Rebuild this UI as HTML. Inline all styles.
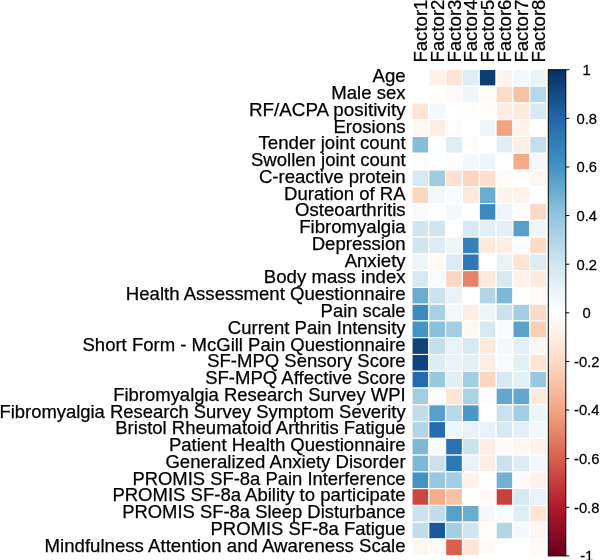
<!DOCTYPE html><html><head><meta charset="utf-8"><style>html,body{margin:0;padding:0;background:#fff;width:600px;height:560px;overflow:hidden}svg{display:block}text{font-family:"Liberation Sans",Arial,sans-serif;fill:#000;stroke:#000;stroke-width:0.25px}</style></head><body>
<svg width="600" height="560" viewBox="0 0 600 560">
<g stroke="#fff" stroke-width="1.1">
<rect x="412.00" y="69.40" width="16.82" height="16.77" fill="#ffffff"/>
<rect x="428.82" y="69.40" width="16.82" height="16.77" fill="#fef1e9"/>
<rect x="445.64" y="69.40" width="16.82" height="16.77" fill="#fee4d5"/>
<rect x="462.46" y="69.40" width="16.82" height="16.77" fill="#dfedf4"/>
<rect x="479.28" y="69.40" width="16.82" height="16.77" fill="#0c3e74"/>
<rect x="496.10" y="69.40" width="16.82" height="16.77" fill="#fef2eb"/>
<rect x="512.92" y="69.40" width="16.82" height="16.77" fill="#f1f7fa"/>
<rect x="529.74" y="69.40" width="16.82" height="16.77" fill="#eaf3f8"/>
<rect x="412.00" y="86.17" width="16.82" height="16.77" fill="#ffffff"/>
<rect x="428.82" y="86.17" width="16.82" height="16.77" fill="#ffffff"/>
<rect x="445.64" y="86.17" width="16.82" height="16.77" fill="#fffaf7"/>
<rect x="462.46" y="86.17" width="16.82" height="16.77" fill="#eff6fa"/>
<rect x="479.28" y="86.17" width="16.82" height="16.77" fill="#fffbf9"/>
<rect x="496.10" y="86.17" width="16.82" height="16.77" fill="#fddbc7"/>
<rect x="512.92" y="86.17" width="16.82" height="16.77" fill="#f8c0a4"/>
<rect x="529.74" y="86.17" width="16.82" height="16.77" fill="#b5d7e8"/>
<rect x="412.00" y="102.94" width="16.82" height="16.77" fill="#fee4d5"/>
<rect x="428.82" y="102.94" width="16.82" height="16.77" fill="#f4f8fb"/>
<rect x="445.64" y="102.94" width="16.82" height="16.77" fill="#ffffff"/>
<rect x="462.46" y="102.94" width="16.82" height="16.77" fill="#fffdfc"/>
<rect x="479.28" y="102.94" width="16.82" height="16.77" fill="#fffbf9"/>
<rect x="496.10" y="102.94" width="16.82" height="16.77" fill="#feede3"/>
<rect x="512.92" y="102.94" width="16.82" height="16.77" fill="#fee9dd"/>
<rect x="529.74" y="102.94" width="16.82" height="16.77" fill="#d8e9f2"/>
<rect x="412.00" y="119.71" width="16.82" height="16.77" fill="#fef6f1"/>
<rect x="428.82" y="119.71" width="16.82" height="16.77" fill="#feede3"/>
<rect x="445.64" y="119.71" width="16.82" height="16.77" fill="#fafcfe"/>
<rect x="462.46" y="119.71" width="16.82" height="16.77" fill="#ffffff"/>
<rect x="479.28" y="119.71" width="16.82" height="16.77" fill="#eff6fa"/>
<rect x="496.10" y="119.71" width="16.82" height="16.77" fill="#f2a27f"/>
<rect x="512.92" y="119.71" width="16.82" height="16.77" fill="#fef2eb"/>
<rect x="529.74" y="119.71" width="16.82" height="16.77" fill="#ffffff"/>
<rect x="412.00" y="136.48" width="16.82" height="16.77" fill="#86beda"/>
<rect x="428.82" y="136.48" width="16.82" height="16.77" fill="#fdfefe"/>
<rect x="445.64" y="136.48" width="16.82" height="16.77" fill="#dfedf4"/>
<rect x="462.46" y="136.48" width="16.82" height="16.77" fill="#fffbf9"/>
<rect x="479.28" y="136.48" width="16.82" height="16.77" fill="#ffffff"/>
<rect x="496.10" y="136.48" width="16.82" height="16.77" fill="#e1eef5"/>
<rect x="512.92" y="136.48" width="16.82" height="16.77" fill="#feefe6"/>
<rect x="529.74" y="136.48" width="16.82" height="16.77" fill="#c4dfec"/>
<rect x="412.00" y="153.25" width="16.82" height="16.77" fill="#fafcfe"/>
<rect x="428.82" y="153.25" width="16.82" height="16.77" fill="#fdfefe"/>
<rect x="445.64" y="153.25" width="16.82" height="16.77" fill="#fffdfc"/>
<rect x="462.46" y="153.25" width="16.82" height="16.77" fill="#f4f8fb"/>
<rect x="479.28" y="153.25" width="16.82" height="16.77" fill="#edf5f9"/>
<rect x="496.10" y="153.25" width="16.82" height="16.77" fill="#ffffff"/>
<rect x="512.92" y="153.25" width="16.82" height="16.77" fill="#f5aa89"/>
<rect x="529.74" y="153.25" width="16.82" height="16.77" fill="#f4f8fb"/>
<rect x="412.00" y="170.02" width="16.82" height="16.77" fill="#d6e8f2"/>
<rect x="428.82" y="170.02" width="16.82" height="16.77" fill="#9fcbe2"/>
<rect x="445.64" y="170.02" width="16.82" height="16.77" fill="#fde0cf"/>
<rect x="462.46" y="170.02" width="16.82" height="16.77" fill="#fcd6c0"/>
<rect x="479.28" y="170.02" width="16.82" height="16.77" fill="#fddfcd"/>
<rect x="496.10" y="170.02" width="16.82" height="16.77" fill="#fffbf9"/>
<rect x="512.92" y="170.02" width="16.82" height="16.77" fill="#ffffff"/>
<rect x="529.74" y="170.02" width="16.82" height="16.77" fill="#fef6f1"/>
<rect x="412.00" y="186.79" width="16.82" height="16.77" fill="#fcd6c0"/>
<rect x="428.82" y="186.79" width="16.82" height="16.77" fill="#f1f7fa"/>
<rect x="445.64" y="186.79" width="16.82" height="16.77" fill="#f8fbfd"/>
<rect x="462.46" y="186.79" width="16.82" height="16.77" fill="#fee8db"/>
<rect x="479.28" y="186.79" width="16.82" height="16.77" fill="#6aacd0"/>
<rect x="496.10" y="186.79" width="16.82" height="16.77" fill="#fef2eb"/>
<rect x="512.92" y="186.79" width="16.82" height="16.77" fill="#fef2eb"/>
<rect x="529.74" y="186.79" width="16.82" height="16.77" fill="#ffffff"/>
<rect x="412.00" y="203.56" width="16.82" height="16.77" fill="#f8fbfd"/>
<rect x="428.82" y="203.56" width="16.82" height="16.77" fill="#fdfefe"/>
<rect x="445.64" y="203.56" width="16.82" height="16.77" fill="#f4f8fb"/>
<rect x="462.46" y="203.56" width="16.82" height="16.77" fill="#fdfefe"/>
<rect x="479.28" y="203.56" width="16.82" height="16.77" fill="#3c8abe"/>
<rect x="496.10" y="203.56" width="16.82" height="16.77" fill="#edf5f9"/>
<rect x="512.92" y="203.56" width="16.82" height="16.77" fill="#fffbf9"/>
<rect x="529.74" y="203.56" width="16.82" height="16.77" fill="#fdd8c4"/>
<rect x="412.00" y="220.33" width="16.82" height="16.77" fill="#d1e5f0"/>
<rect x="428.82" y="220.33" width="16.82" height="16.77" fill="#d1e5f0"/>
<rect x="445.64" y="220.33" width="16.82" height="16.77" fill="#ffffff"/>
<rect x="462.46" y="220.33" width="16.82" height="16.77" fill="#d6e8f2"/>
<rect x="479.28" y="220.33" width="16.82" height="16.77" fill="#e3eff6"/>
<rect x="496.10" y="220.33" width="16.82" height="16.77" fill="#e3eff6"/>
<rect x="512.92" y="220.33" width="16.82" height="16.77" fill="#57a0ca"/>
<rect x="529.74" y="220.33" width="16.82" height="16.77" fill="#eff6fa"/>
<rect x="412.00" y="237.10" width="16.82" height="16.77" fill="#d1e5f0"/>
<rect x="428.82" y="237.10" width="16.82" height="16.77" fill="#dcecf4"/>
<rect x="445.64" y="237.10" width="16.82" height="16.77" fill="#edf5f9"/>
<rect x="462.46" y="237.10" width="16.82" height="16.77" fill="#3581ba"/>
<rect x="479.28" y="237.10" width="16.82" height="16.77" fill="#fee9dd"/>
<rect x="496.10" y="237.10" width="16.82" height="16.77" fill="#feede3"/>
<rect x="512.92" y="237.10" width="16.82" height="16.77" fill="#fafcfe"/>
<rect x="529.74" y="237.10" width="16.82" height="16.77" fill="#fddbc7"/>
<rect x="412.00" y="253.87" width="16.82" height="16.77" fill="#edf5f9"/>
<rect x="428.82" y="253.87" width="16.82" height="16.77" fill="#fffaf7"/>
<rect x="445.64" y="253.87" width="16.82" height="16.77" fill="#dcecf4"/>
<rect x="462.46" y="253.87" width="16.82" height="16.77" fill="#2f78b5"/>
<rect x="479.28" y="253.87" width="16.82" height="16.77" fill="#ffffff"/>
<rect x="496.10" y="253.87" width="16.82" height="16.77" fill="#e8f2f8"/>
<rect x="512.92" y="253.87" width="16.82" height="16.77" fill="#fee4d5"/>
<rect x="529.74" y="253.87" width="16.82" height="16.77" fill="#dcecf4"/>
<rect x="412.00" y="270.64" width="16.82" height="16.77" fill="#d6e8f2"/>
<rect x="428.82" y="270.64" width="16.82" height="16.77" fill="#f8fbfd"/>
<rect x="445.64" y="270.64" width="16.82" height="16.77" fill="#fcd6c0"/>
<rect x="462.46" y="270.64" width="16.82" height="16.77" fill="#e58268"/>
<rect x="479.28" y="270.64" width="16.82" height="16.77" fill="#fee9dd"/>
<rect x="496.10" y="270.64" width="16.82" height="16.77" fill="#d6e8f2"/>
<rect x="512.92" y="270.64" width="16.82" height="16.77" fill="#fef1e9"/>
<rect x="529.74" y="270.64" width="16.82" height="16.77" fill="#fee9dd"/>
<rect x="412.00" y="287.41" width="16.82" height="16.77" fill="#6aacd0"/>
<rect x="428.82" y="287.41" width="16.82" height="16.77" fill="#cbe2ee"/>
<rect x="445.64" y="287.41" width="16.82" height="16.77" fill="#e8f2f8"/>
<rect x="462.46" y="287.41" width="16.82" height="16.77" fill="#ffffff"/>
<rect x="479.28" y="287.41" width="16.82" height="16.77" fill="#b2d5e7"/>
<rect x="496.10" y="287.41" width="16.82" height="16.77" fill="#7eb8d7"/>
<rect x="512.92" y="287.41" width="16.82" height="16.77" fill="#fdfefe"/>
<rect x="529.74" y="287.41" width="16.82" height="16.77" fill="#fffaf7"/>
<rect x="412.00" y="304.18" width="16.82" height="16.77" fill="#3c8abe"/>
<rect x="428.82" y="304.18" width="16.82" height="16.77" fill="#a8d0e4"/>
<rect x="445.64" y="304.18" width="16.82" height="16.77" fill="#f1f7fa"/>
<rect x="462.46" y="304.18" width="16.82" height="16.77" fill="#feede3"/>
<rect x="479.28" y="304.18" width="16.82" height="16.77" fill="#edf5f9"/>
<rect x="496.10" y="304.18" width="16.82" height="16.77" fill="#cbe2ee"/>
<rect x="512.92" y="304.18" width="16.82" height="16.77" fill="#a2cde2"/>
<rect x="529.74" y="304.18" width="16.82" height="16.77" fill="#fddbc7"/>
<rect x="412.00" y="320.95" width="16.82" height="16.77" fill="#4393c3"/>
<rect x="428.82" y="320.95" width="16.82" height="16.77" fill="#8ac0db"/>
<rect x="445.64" y="320.95" width="16.82" height="16.77" fill="#a2cde2"/>
<rect x="462.46" y="320.95" width="16.82" height="16.77" fill="#fef6f1"/>
<rect x="479.28" y="320.95" width="16.82" height="16.77" fill="#d6e8f2"/>
<rect x="496.10" y="320.95" width="16.82" height="16.77" fill="#f8fbfd"/>
<rect x="512.92" y="320.95" width="16.82" height="16.77" fill="#5ba2cb"/>
<rect x="529.74" y="320.95" width="16.82" height="16.77" fill="#fbceb6"/>
<rect x="412.00" y="337.72" width="16.82" height="16.77" fill="#0f437b"/>
<rect x="428.82" y="337.72" width="16.82" height="16.77" fill="#c4dfec"/>
<rect x="445.64" y="337.72" width="16.82" height="16.77" fill="#e8f2f8"/>
<rect x="462.46" y="337.72" width="16.82" height="16.77" fill="#d6e8f2"/>
<rect x="479.28" y="337.72" width="16.82" height="16.77" fill="#fee9dd"/>
<rect x="496.10" y="337.72" width="16.82" height="16.77" fill="#f4f8fb"/>
<rect x="512.92" y="337.72" width="16.82" height="16.77" fill="#e3eff6"/>
<rect x="529.74" y="337.72" width="16.82" height="16.77" fill="#fef6f1"/>
<rect x="412.00" y="354.49" width="16.82" height="16.77" fill="#0f437b"/>
<rect x="428.82" y="354.49" width="16.82" height="16.77" fill="#dcecf4"/>
<rect x="445.64" y="354.49" width="16.82" height="16.77" fill="#e8f2f8"/>
<rect x="462.46" y="354.49" width="16.82" height="16.77" fill="#e3eff6"/>
<rect x="479.28" y="354.49" width="16.82" height="16.77" fill="#feede3"/>
<rect x="496.10" y="354.49" width="16.82" height="16.77" fill="#f8fbfd"/>
<rect x="512.92" y="354.49" width="16.82" height="16.77" fill="#e3eff6"/>
<rect x="529.74" y="354.49" width="16.82" height="16.77" fill="#fee4d5"/>
<rect x="412.00" y="371.26" width="16.82" height="16.77" fill="#246aae"/>
<rect x="428.82" y="371.26" width="16.82" height="16.77" fill="#98c8e0"/>
<rect x="445.64" y="371.26" width="16.82" height="16.77" fill="#e1eef5"/>
<rect x="462.46" y="371.26" width="16.82" height="16.77" fill="#a2cde2"/>
<rect x="479.28" y="371.26" width="16.82" height="16.77" fill="#fcd6c0"/>
<rect x="496.10" y="371.26" width="16.82" height="16.77" fill="#d6e8f2"/>
<rect x="512.92" y="371.26" width="16.82" height="16.77" fill="#e3eff6"/>
<rect x="529.74" y="371.26" width="16.82" height="16.77" fill="#98c8e0"/>
<rect x="412.00" y="388.03" width="16.82" height="16.77" fill="#a2cde2"/>
<rect x="428.82" y="388.03" width="16.82" height="16.77" fill="#fafcfe"/>
<rect x="445.64" y="388.03" width="16.82" height="16.77" fill="#fee4d5"/>
<rect x="462.46" y="388.03" width="16.82" height="16.77" fill="#abd2e5"/>
<rect x="479.28" y="388.03" width="16.82" height="16.77" fill="#fafcfe"/>
<rect x="496.10" y="388.03" width="16.82" height="16.77" fill="#63a7ce"/>
<rect x="512.92" y="388.03" width="16.82" height="16.77" fill="#63a7ce"/>
<rect x="529.74" y="388.03" width="16.82" height="16.77" fill="#fee9dd"/>
<rect x="412.00" y="404.80" width="16.82" height="16.77" fill="#c1ddec"/>
<rect x="428.82" y="404.80" width="16.82" height="16.77" fill="#57a0ca"/>
<rect x="445.64" y="404.80" width="16.82" height="16.77" fill="#b8d8e9"/>
<rect x="462.46" y="404.80" width="16.82" height="16.77" fill="#4b98c6"/>
<rect x="479.28" y="404.80" width="16.82" height="16.77" fill="#ffffff"/>
<rect x="496.10" y="404.80" width="16.82" height="16.77" fill="#cbe2ee"/>
<rect x="512.92" y="404.80" width="16.82" height="16.77" fill="#a2cde2"/>
<rect x="529.74" y="404.80" width="16.82" height="16.77" fill="#edf5f9"/>
<rect x="412.00" y="421.57" width="16.82" height="16.77" fill="#b2d5e7"/>
<rect x="428.82" y="421.57" width="16.82" height="16.77" fill="#266daf"/>
<rect x="445.64" y="421.57" width="16.82" height="16.77" fill="#eff6fa"/>
<rect x="462.46" y="421.57" width="16.82" height="16.77" fill="#e8f2f8"/>
<rect x="479.28" y="421.57" width="16.82" height="16.77" fill="#e8f2f8"/>
<rect x="496.10" y="421.57" width="16.82" height="16.77" fill="#d6e8f2"/>
<rect x="512.92" y="421.57" width="16.82" height="16.77" fill="#e3eff6"/>
<rect x="529.74" y="421.57" width="16.82" height="16.77" fill="#f1f7fa"/>
<rect x="412.00" y="438.34" width="16.82" height="16.77" fill="#7eb8d7"/>
<rect x="428.82" y="438.34" width="16.82" height="16.77" fill="#f8fbfd"/>
<rect x="445.64" y="438.34" width="16.82" height="16.77" fill="#2a71b2"/>
<rect x="462.46" y="438.34" width="16.82" height="16.77" fill="#cbe2ee"/>
<rect x="479.28" y="438.34" width="16.82" height="16.77" fill="#feede3"/>
<rect x="496.10" y="438.34" width="16.82" height="16.77" fill="#fffaf7"/>
<rect x="512.92" y="438.34" width="16.82" height="16.77" fill="#fef6f1"/>
<rect x="529.74" y="438.34" width="16.82" height="16.77" fill="#fef2eb"/>
<rect x="412.00" y="455.11" width="16.82" height="16.77" fill="#7eb8d7"/>
<rect x="428.82" y="455.11" width="16.82" height="16.77" fill="#cbe2ee"/>
<rect x="445.64" y="455.11" width="16.82" height="16.77" fill="#2f78b5"/>
<rect x="462.46" y="455.11" width="16.82" height="16.77" fill="#e8f2f8"/>
<rect x="479.28" y="455.11" width="16.82" height="16.77" fill="#feede3"/>
<rect x="496.10" y="455.11" width="16.82" height="16.77" fill="#cbe2ee"/>
<rect x="512.92" y="455.11" width="16.82" height="16.77" fill="#dcecf4"/>
<rect x="529.74" y="455.11" width="16.82" height="16.77" fill="#f1f7fa"/>
<rect x="412.00" y="471.88" width="16.82" height="16.77" fill="#4393c3"/>
<rect x="428.82" y="471.88" width="16.82" height="16.77" fill="#98c8e0"/>
<rect x="445.64" y="471.88" width="16.82" height="16.77" fill="#a2cde2"/>
<rect x="462.46" y="471.88" width="16.82" height="16.77" fill="#fef1e9"/>
<rect x="479.28" y="471.88" width="16.82" height="16.77" fill="#ffffff"/>
<rect x="496.10" y="471.88" width="16.82" height="16.77" fill="#72b1d3"/>
<rect x="512.92" y="471.88" width="16.82" height="16.77" fill="#fffaf7"/>
<rect x="529.74" y="471.88" width="16.82" height="16.77" fill="#fef1e9"/>
<rect x="412.00" y="488.65" width="16.82" height="16.77" fill="#c94741"/>
<rect x="428.82" y="488.65" width="16.82" height="16.77" fill="#f5ad8c"/>
<rect x="445.64" y="488.65" width="16.82" height="16.77" fill="#f8c0a4"/>
<rect x="462.46" y="488.65" width="16.82" height="16.77" fill="#ffffff"/>
<rect x="479.28" y="488.65" width="16.82" height="16.77" fill="#fffaf7"/>
<rect x="496.10" y="488.65" width="16.82" height="16.77" fill="#c6403e"/>
<rect x="512.92" y="488.65" width="16.82" height="16.77" fill="#d6e8f2"/>
<rect x="529.74" y="488.65" width="16.82" height="16.77" fill="#e8f2f8"/>
<rect x="412.00" y="505.42" width="16.82" height="16.77" fill="#cbe2ee"/>
<rect x="428.82" y="505.42" width="16.82" height="16.77" fill="#c1ddec"/>
<rect x="445.64" y="505.42" width="16.82" height="16.77" fill="#57a0ca"/>
<rect x="462.46" y="505.42" width="16.82" height="16.77" fill="#6aacd0"/>
<rect x="479.28" y="505.42" width="16.82" height="16.77" fill="#f4f8fb"/>
<rect x="496.10" y="505.42" width="16.82" height="16.77" fill="#f8fbfd"/>
<rect x="512.92" y="505.42" width="16.82" height="16.77" fill="#dfedf4"/>
<rect x="529.74" y="505.42" width="16.82" height="16.77" fill="#fee4d5"/>
<rect x="412.00" y="522.19" width="16.82" height="16.77" fill="#c1ddec"/>
<rect x="428.82" y="522.19" width="16.82" height="16.77" fill="#1a5899"/>
<rect x="445.64" y="522.19" width="16.82" height="16.77" fill="#a2cde2"/>
<rect x="462.46" y="522.19" width="16.82" height="16.77" fill="#d1e5f0"/>
<rect x="479.28" y="522.19" width="16.82" height="16.77" fill="#fffbf9"/>
<rect x="496.10" y="522.19" width="16.82" height="16.77" fill="#b2d5e7"/>
<rect x="512.92" y="522.19" width="16.82" height="16.77" fill="#f4f8fb"/>
<rect x="529.74" y="522.19" width="16.82" height="16.77" fill="#fef6f1"/>
<rect x="412.00" y="538.96" width="16.82" height="16.77" fill="#fef6f1"/>
<rect x="428.82" y="538.96" width="16.82" height="16.77" fill="#fffaf7"/>
<rect x="445.64" y="538.96" width="16.82" height="16.77" fill="#d6604d"/>
<rect x="462.46" y="538.96" width="16.82" height="16.77" fill="#fee4d5"/>
<rect x="479.28" y="538.96" width="16.82" height="16.77" fill="#fffaf7"/>
<rect x="496.10" y="538.96" width="16.82" height="16.77" fill="#ffffff"/>
<rect x="512.92" y="538.96" width="16.82" height="16.77" fill="#ffffff"/>
<rect x="529.74" y="538.96" width="16.82" height="16.77" fill="#fffaf7"/>
</g>
<g font-size="18.6" text-anchor="end">
<text transform="translate(405.60 82.19) scale(1 1.000)" textLength="33.09" lengthAdjust="spacingAndGlyphs">Age</text>
<text transform="translate(405.60 98.96) scale(1 1.000)" textLength="74.29" lengthAdjust="spacingAndGlyphs">Male sex</text>
<text transform="translate(405.60 115.73) scale(1 1.000)" textLength="156.66" lengthAdjust="spacingAndGlyphs">RF/ACPA positivity</text>
<text transform="translate(405.60 132.50) scale(1 1.000)" textLength="72.23" lengthAdjust="spacingAndGlyphs">Erosions</text>
<text transform="translate(405.60 149.27) scale(1 1.000)" textLength="147.07" lengthAdjust="spacingAndGlyphs">Tender joint count</text>
<text transform="translate(405.60 166.03) scale(1 1.000)" textLength="154.61" lengthAdjust="spacingAndGlyphs">Swollen joint count</text>
<text transform="translate(405.60 182.81) scale(1 1.000)" textLength="146.72" lengthAdjust="spacingAndGlyphs">C-reactive protein</text>
<text transform="translate(405.60 199.58) scale(1 1.000)" textLength="121.52" lengthAdjust="spacingAndGlyphs">Duration of RA</text>
<text transform="translate(405.60 216.34) scale(1 1.000)" textLength="110.56" lengthAdjust="spacingAndGlyphs">Osteoarthritis</text>
<text transform="translate(405.60 233.12) scale(1 1.000)" textLength="106.42" lengthAdjust="spacingAndGlyphs">Fibromyalgia</text>
<text transform="translate(405.60 249.88) scale(1 1.000)" textLength="93.94" lengthAdjust="spacingAndGlyphs">Depression</text>
<text transform="translate(405.60 266.65) scale(1 1.000)" textLength="60.97" lengthAdjust="spacingAndGlyphs">Anxiety</text>
<text transform="translate(405.60 283.42) scale(1 1.000)" textLength="141.77" lengthAdjust="spacingAndGlyphs">Body mass index</text>
<text transform="translate(405.60 300.19) scale(1 1.000)" textLength="279.74" lengthAdjust="spacingAndGlyphs">Health Assessment Questionnaire</text>
<text transform="translate(405.60 316.96) scale(1 1.000)" textLength="85.01" lengthAdjust="spacingAndGlyphs">Pain scale</text>
<text transform="translate(405.60 333.73) scale(1 1.000)" textLength="177.75" lengthAdjust="spacingAndGlyphs">Current Pain Intensity</text>
<text transform="translate(405.60 350.50) scale(1 1.000)" textLength="323.10" lengthAdjust="spacingAndGlyphs">Short Form - McGill Pain Questionnaire</text>
<text transform="translate(405.60 367.27) scale(1 1.000)" textLength="198.37" lengthAdjust="spacingAndGlyphs">SF-MPQ Sensory Score</text>
<text transform="translate(405.60 384.04) scale(1 1.000)" textLength="200.42" lengthAdjust="spacingAndGlyphs">SF-MPQ Affective Score</text>
<text transform="translate(405.60 400.81) scale(1 1.000)" textLength="292.42" lengthAdjust="spacingAndGlyphs">Fibromyalgia Research Survey WPI</text>
<text transform="translate(405.60 417.58) scale(1 1.000)" textLength="406.15" lengthAdjust="spacingAndGlyphs">Fibromyalgia Research Survey Symptom Severity</text>
<text transform="translate(405.60 434.36) scale(1 1.000)" textLength="290.37" lengthAdjust="spacingAndGlyphs">Bristol Rheumatoid Arthritis Fatigue</text>
<text transform="translate(405.60 451.12) scale(1 1.000)" textLength="236.69" lengthAdjust="spacingAndGlyphs">Patient Health Questionnaire</text>
<text transform="translate(405.60 467.89) scale(1 1.000)" textLength="240.16" lengthAdjust="spacingAndGlyphs">Generalized Anxiety Disorder</text>
<text transform="translate(405.60 484.66) scale(1 1.000)" textLength="273.11" lengthAdjust="spacingAndGlyphs">PROMIS SF-8a Pain Interference</text>
<text transform="translate(405.60 501.43) scale(1 1.000)" textLength="293.21" lengthAdjust="spacingAndGlyphs">PROMIS SF-8a Ability to participate</text>
<text transform="translate(405.60 518.20) scale(1 1.000)" textLength="283.43" lengthAdjust="spacingAndGlyphs">PROMIS SF-8a Sleep Disturbance</text>
<text transform="translate(405.60 534.97) scale(1 1.000)" textLength="195.09" lengthAdjust="spacingAndGlyphs">PROMIS SF-8a Fatigue</text>
<text transform="translate(405.60 551.75) scale(1 1.000)" textLength="361.10" lengthAdjust="spacingAndGlyphs">Mindfulness Attention and Awareness Scale</text>
</g>
<g font-size="18.6">
<text transform="translate(427.01 62.60) rotate(-90)">Factor1</text>
<text transform="translate(443.83 62.60) rotate(-90)">Factor2</text>
<text transform="translate(460.65 62.60) rotate(-90)">Factor3</text>
<text transform="translate(477.47 62.60) rotate(-90)">Factor4</text>
<text transform="translate(494.29 62.60) rotate(-90)">Factor5</text>
<text transform="translate(511.11 62.60) rotate(-90)">Factor6</text>
<text transform="translate(527.93 62.60) rotate(-90)">Factor7</text>
<text transform="translate(544.75 62.60) rotate(-90)">Factor8</text>
</g>
<defs><linearGradient id="g" x1="0" y1="0" x2="0" y2="1"><stop offset="0.000" stop-color="#053061"/><stop offset="0.100" stop-color="#2166AC"/><stop offset="0.200" stop-color="#4393C3"/><stop offset="0.300" stop-color="#92C5DE"/><stop offset="0.400" stop-color="#D1E5F0"/><stop offset="0.500" stop-color="#FFFFFF"/><stop offset="0.600" stop-color="#FDDBC7"/><stop offset="0.700" stop-color="#F4A582"/><stop offset="0.800" stop-color="#D6604D"/><stop offset="0.900" stop-color="#B2182B"/><stop offset="1.000" stop-color="#67001F"/></linearGradient></defs>
<rect x="548.30" y="69.75" width="17.50" height="486.15" fill="url(#g)" stroke="#000" stroke-width="1"/>
<g stroke="#000" stroke-width="1">
<line x1="565.80" y1="69.75" x2="569.30" y2="69.75"/>
<line x1="565.80" y1="118.36" x2="569.30" y2="118.36"/>
<line x1="565.80" y1="166.98" x2="569.30" y2="166.98"/>
<line x1="565.80" y1="215.59" x2="569.30" y2="215.59"/>
<line x1="565.80" y1="264.21" x2="569.30" y2="264.21"/>
<line x1="565.80" y1="312.82" x2="569.30" y2="312.82"/>
<line x1="565.80" y1="361.44" x2="569.30" y2="361.44"/>
<line x1="565.80" y1="410.05" x2="569.30" y2="410.05"/>
<line x1="565.80" y1="458.67" x2="569.30" y2="458.67"/>
<line x1="565.80" y1="507.28" x2="569.30" y2="507.28"/>
<line x1="565.80" y1="555.90" x2="569.30" y2="555.90"/>
</g><g font-size="14.8" text-anchor="middle">
<text transform="translate(586.70 75.15) scale(1 1.030)">1</text>
<text transform="translate(586.70 123.77) scale(1 1.030)">0.8</text>
<text transform="translate(586.70 172.38) scale(1 1.030)">0.6</text>
<text transform="translate(586.70 220.99) scale(1 1.030)">0.4</text>
<text transform="translate(586.70 269.61) scale(1 1.030)">0.2</text>
<text transform="translate(586.70 318.22) scale(1 1.030)">0</text>
<text transform="translate(586.70 366.84) scale(1 1.030)">-0.2</text>
<text transform="translate(586.70 415.45) scale(1 1.030)">-0.4</text>
<text transform="translate(586.70 464.07) scale(1 1.030)">-0.6</text>
<text transform="translate(586.70 512.68) scale(1 1.030)">-0.8</text>
<text transform="translate(586.70 561.30) scale(1 1.030)">-1</text>
</g></svg></body></html>
